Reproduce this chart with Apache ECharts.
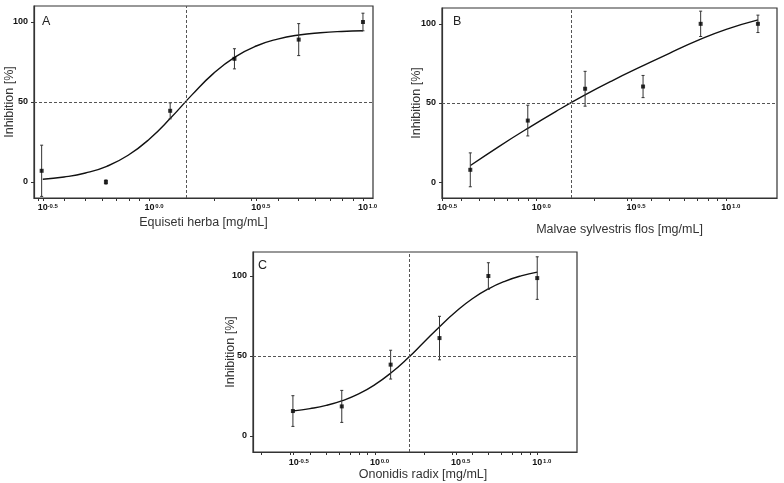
<!DOCTYPE html>
<html>
<head>
<meta charset="utf-8">
<script src="https://cdn.jsdelivr.net/npm/echarts@6/dist/echarts.min.js"></script>
<style>
html,body{margin:0;padding:0;background:#fff;}
#chart{width:784px;height:483px;}
</style>
</head>
<body>
<div id="chart"></div>
<script>
// ---------- data ----------
// Panel A – Equiseti herba
const concA = [0.3125, 0.625, 1.25, 2.5, 5, 10];          // mg/mL
const inhA  = [7, 0, 44.5, 77, 89, 100];                   // %
const errA  = [16, 1.3, 5, 6.3, 10, 5.5];
const curveLogA = [-0.5,-0.4,-0.3,-0.2,-0.1,0,0.1,0.2,0.3,0.4,0.5,0.6,0.7,0.8,0.9,1.0];
const curveA    = [1.7,3.1,5.6,9.8,16.7,26.9,40.1,54.6,67.9,78.1,85.0,89.3,91.9,93.3,94.1,94.5];
const ic50A = 1.47;

// Panel B – Malvae sylvestris flos
const concB = [0.446, 0.897, 1.80, 3.64, 7.33, 14.7];
const inhB  = [7.8, 38.9, 59, 60.4, 100, 100];
const errB  = [10.7, 9.7, 11, 7, 8, 5.5];
const curveLogB = [-0.35,-0.2,-0.05,0.1,0.25,0.4,0.55,0.7,0.85,1.0,1.168];
const curveB    = [10.5,22.5,33.8,44.6,54.8,64.2,72.9,81.4,89.5,96.5,102.5];
const ic50B = 1.50;

// Panel C – Ononidis radix
const concC = [0.3125, 0.625, 1.25, 2.5, 5, 10];
const inhC  = [15.6, 18.5, 44.6, 61.2, 100, 98.7];
const errC  = [9.6, 10, 9, 13.6, 8.3, 13.3];
const curveLogC = [-0.5,-0.4,-0.3,-0.2,-0.1,0,0.1,0.2,0.3,0.4,0.5,0.6,0.7,0.8,0.9,1.0];
const curveC    = [15.7,17.1,19.1,22.1,26.3,32.1,39.5,48.4,58.4,68.5,77.8,85.8,92.0,96.7,100.1,102.4];
const ic50C = 1.64;

// tick labels (exponents of 10)
const xMajorExp = [-0.5, 0, 0.5, 1];
const xMajorTxt = ['-0.5', '0.0', '0.5', '1.0'];
const yTicks = [0, 50, 100];

const panelLetters = ['A', 'B', 'C'];
const xTitles = ['Equiseti herba [mg/mL]', 'Malvae sylvestris flos [mg/mL]', 'Ononidis radix [mg/mL]'];
const yTitle = 'Inhibition [%]';

// ---------- build ----------
const FONT = 'Liberation Sans, Arial, sans-serif';
const lg = v => Math.log10(v);

const panels = [
  {conc: concA, inh: inhA, err: errA, cx: curveLogA, cy: curveA, ic: ic50A,
   grid: {left: 34, top: 6, width: 339, height: 192}, xmin: -0.541, xmax: 1.047, ymin: -10, ymax: 110,
   lblMargin: 5, nameGap: 18, yNameGap: 18, namePad: 0},
  {conc: concB, inh: inhB, err: errB, cx: curveLogB, cy: curveB, ic: ic50B,
   grid: {left: 442, top: 8, width: 335, height: 190}, xmin: -0.5, xmax: 1.268, ymin: -10, ymax: 110,
   lblMargin: 5, nameGap: 25, yNameGap: 19, namePad: 20},
  {conc: concC, inh: inhC, err: errC, cx: curveLogC, cy: curveC, ic: ic50C,
   grid: {left: 253, top: 252, width: 324, height: 200}, xmin: -0.751, xmax: 1.245, ymin: -10, ymax: 115,
   lblMargin: 6, nameGap: 16, yNameGap: 16, namePad: 16}
];

// log-style minor tick positions
function minorTicks(min, max) {
  const out = [];
  [0.1, 1, 10].forEach(d => {
    for (let k = 1; k <= 9; k++) {
      const v = lg(k * d);
      if (v >= min - 1e-9 && v <= max + 1e-9) out.push(v);
    }
  });
  xMajorExp.forEach(v => { if (v >= min && v <= max && out.indexOf(v) < 0) out.push(v); });
  return out.sort((a, b) => a - b);
}

const grids = [], xAxes = [], yAxes = [], series = [];
panels.forEach((p, i) => {
  grids.push(Object.assign({show: true, borderColor: '#333', borderWidth: 1.2, backgroundColor: 'transparent'}, p.grid));
  xAxes.push({
    type: 'value', gridIndex: i, min: p.xmin, max: p.xmax, position: 'bottom',
    name: xTitles[i], nameLocation: 'middle', nameGap: p.nameGap, nameMoveOverlap: false,
    nameTextStyle: {fontFamily: FONT, fontSize: 12.5, color: '#333', padding: [0, 0, 0, p.namePad]},
    axisLine: {show: true, onZero: false, lineStyle: {color: '#333', width: 1.2}},
    axisTick: {show: true, inside: false, length: 3, lineStyle: {color: '#333'}, customValues: minorTicks(p.xmin, p.xmax)},
    axisLabel: {
      show: true, margin: p.lblMargin, customValues: xMajorExp,
      formatter: v => {
        const idx = xMajorExp.findIndex(e => Math.abs(e - v) < 1e-6);
        return '{pad|}{b|10}{s|' + xMajorTxt[idx] + '}';
      },
      rich: {
        pad: {width: 10, fontSize: 6},
        b: {fontFamily: FONT, fontSize: 9, fontWeight: 'bold', color: '#111', lineHeight: 10},
        s: {fontFamily: FONT, fontSize: 6, fontWeight: 'bold', color: '#111', lineHeight: 6, verticalAlign: 'top', width: 10}
      }
    },
    splitLine: {show: false}
  });
  yAxes.push({
    type: 'value', gridIndex: i, min: p.ymin, max: p.ymax, position: 'left',
    name: yTitle, nameLocation: 'middle', nameGap: p.yNameGap, nameRotate: 90, nameMoveOverlap: false,
    nameTextStyle: {fontFamily: FONT, fontSize: 12.5, color: '#333'},
    axisLine: {show: true, onZero: false, lineStyle: {color: '#333', width: 1.2}},
    axisTick: {show: true, inside: false, length: 3, lineStyle: {color: '#333'}, customValues: yTicks},
    axisLabel: {show: true, margin: 6, customValues: yTicks, fontFamily: FONT, fontSize: 9, fontWeight: 'bold', color: '#111'},
    splitLine: {show: false}
  });
  // fitted curve + reference lines
  series.push({
    type: 'line', xAxisIndex: i, yAxisIndex: i, smooth: true, showSymbol: false, symbol: 'none',
    data: p.cx.map((x, k) => [x, p.cy[k]]),
    lineStyle: {color: '#111', width: 1.4},
    z: 3,
    markLine: {
      silent: true, symbol: 'none', label: {show: false},
      lineStyle: {type: [3, 2], color: '#555', width: 1},
      data: [{yAxis: 50}, {xAxis: lg(p.ic)}]
    }
  });
  // error bars
  series.push({
    type: 'custom', xAxisIndex: i, yAxisIndex: i, z: 4,
    data: p.conc.map((c, k) => [lg(c), p.inh[k], p.err[k]]),
    renderItem: (params, api) => {
      const x = api.value(0), y = api.value(1), e = api.value(2);
      const cs = params.coordSys;
      const t = api.coord([x, y + e]), b = api.coord([x, y - e]);
      const clampY = v => Math.max(cs.y, Math.min(cs.y + cs.height, v));
      const y1 = clampY(t[1]), y2 = clampY(b[1]);
      const st = {stroke: '#333', lineWidth: 1};
      const ch = [{type: 'line', shape: {x1: t[0], y1: y1, x2: b[0], y2: y2}, style: st}];
      if (y1 === t[1]) ch.push({type: 'line', shape: {x1: t[0] - 1.5, y1: y1, x2: t[0] + 1.5, y2: y1}, style: st});
      if (y2 === b[1]) ch.push({type: 'line', shape: {x1: b[0] - 1.5, y1: y2, x2: b[0] + 1.5, y2: y2}, style: st});
      return {type: 'group', children: ch};
    }
  });
  // mean points
  series.push({
    type: 'scatter', xAxisIndex: i, yAxisIndex: i, z: 5,
    symbol: 'rect', symbolSize: 4,
    itemStyle: {color: '#000'},
    data: p.conc.map((c, k) => [lg(c), p.inh[k]])
  });
});

const chart = echarts.init(document.getElementById('chart'), null, {renderer: 'canvas'});
chart.setOption({
  animation: false,
  backgroundColor: '#fff',
  grid: grids, xAxis: xAxes, yAxis: yAxes, series: series,
  graphic: [
    {type: 'text', left: 42, top: 15, style: {text: panelLetters[0], font: '12.5px ' + FONT, fill: '#222'}},
    {type: 'text', left: 453, top: 15, style: {text: panelLetters[1], font: '12.5px ' + FONT, fill: '#222'}},
    {type: 'text', left: 258, top: 259, style: {text: panelLetters[2], font: '12.5px ' + FONT, fill: '#222'}}
  ]
});
</script>
</body>
</html>
